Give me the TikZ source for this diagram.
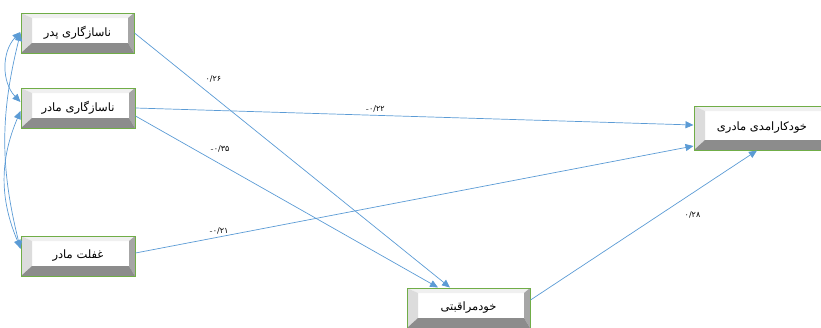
\documentclass[tikz,border=0pt]{standalone}
\usepackage{fontspec}
\newfontfamily\farsi[Script=Arabic]{DejaVu Sans}
\TeXXeTstate=1
\usetikzlibrary{arrows.meta}
\usetikzlibrary{positioning}

\definecolor{boxgreen}{RGB}{112,173,71}
\definecolor{linkblue}{RGB}{91,155,213}
\definecolor{bevtop}{RGB}{240,240,240}
\definecolor{bevleft}{RGB}{220,220,220}
\definecolor{bevright}{RGB}{166,166,166}
\definecolor{bevbottom}{RGB}{140,140,140}

\newcommand{\minussign}{{\normalfont -}}

\tikzset{
  bevelbox/.style={draw=boxgreen, line width=1pt, fill=white, inner sep=0pt,
    minimum width=#1, minimum height=40pt, font=\farsi\fontsize{11.5}{13}\selectfont,
    path picture={
      \coordinate (bv-nw) at (path picture bounding box.north west);
      \coordinate (bv-ne) at (path picture bounding box.north east);
      \coordinate (bv-sw) at (path picture bounding box.south west);
      \coordinate (bv-se) at (path picture bounding box.south east);
      \fill[bevtop] (bv-nw) -- (bv-ne) -- ([shift={(-6pt,-5pt)}]bv-ne) -- ([shift={(11pt,-5pt)}]bv-nw) -- cycle;
      \fill[bevleft] (bv-nw) -- (bv-sw) -- ([shift={(11pt,10pt)}]bv-sw) -- ([shift={(11pt,-5pt)}]bv-nw) -- cycle;
      \fill[bevright] (bv-ne) -- (bv-se) -- ([shift={(-6pt,10pt)}]bv-se) -- ([shift={(-6pt,-5pt)}]bv-ne) -- cycle;
      \fill[bevbottom] (bv-sw) -- (bv-se) -- ([shift={(-6pt,10pt)}]bv-se) -- ([shift={(11pt,10pt)}]bv-sw) -- cycle;
    }},
  link/.style={draw=linkblue, line width=0.7pt, -{Triangle[length=8pt,width=7pt]}},
  cov/.style={draw=linkblue, line width=0.7pt, {Triangle[length=8pt,width=7pt]}-{Triangle[length=8pt,width=7pt]}},
  lbl/.style={font=\farsi\fontsize{8}{9}\selectfont, inner sep=1pt, text=black}
}

\begin{document}
\begin{tikzpicture}[x=1pt, y=-1pt]

  \useasboundingbox (0,0) rectangle (821,327);

  % observed variables
  \node[bevelbox=113pt] (pedar) at (77.5,33) {\beginR ناسازگاری پدر\endR};
  \node[bevelbox=114pt] (madar) at (78,108) {\beginR ناسازگاری مادر\endR};
  \node[bevelbox=114pt] (ghaflat) at (78,256) {\beginR غفلت مادر\endR};
  \node[bevelbox=123pt] (morat) at (468.5,308) {\beginR خودمراقبتی\endR};
  \node[bevelbox=136pt, minimum height=44pt] (kar) at (762,128) {\beginR خودکارامدی مادری\endR};

  % covariances
  \draw[cov] ([yshift=1pt]pedar.west) to[bend right=44] ([yshift=6pt]madar.west);
  \draw[cov] ([yshift=-3pt]madar.west) to[bend right=23] ([yshift=8pt]ghaflat.west);
  \draw[cov] ([yshift=0pt]pedar.west) to[bend right=14] ([yshift=7pt]ghaflat.west);

  % paths to self-care
  \draw[link] (pedar.east) to
    node[lbl, pos=0.25, above=13pt] {۰/۲۶}
    ([xshift=-18.5pt]morat.north);
  \draw[link] ([yshift=-8pt]madar.east) to
    node[lbl, pos=0.28, above=10pt] {\minussign۰/۳۵}
    ([xshift=-30.5pt]morat.north);

  % paths to maternal efficacy
  \draw[link] (madar.east) to
    node[lbl, pos=0.43, above=2pt] {\minussign۰/۲۲}
    ([yshift=3pt]kar.west);
  \draw[link] ([yshift=3pt]ghaflat.east) to
    node[lbl, pos=0.15, above=1pt] {\minussign۰/۲۱}
    ([yshift=-18pt]kar.west);
  \draw[link] ([yshift=8pt]morat.east) to
    node[lbl, pos=0.68, below=12pt, xshift=8pt] {۰/۲۸}
    ([xshift=-5pt]kar.south);

\end{tikzpicture}
\end{document}
